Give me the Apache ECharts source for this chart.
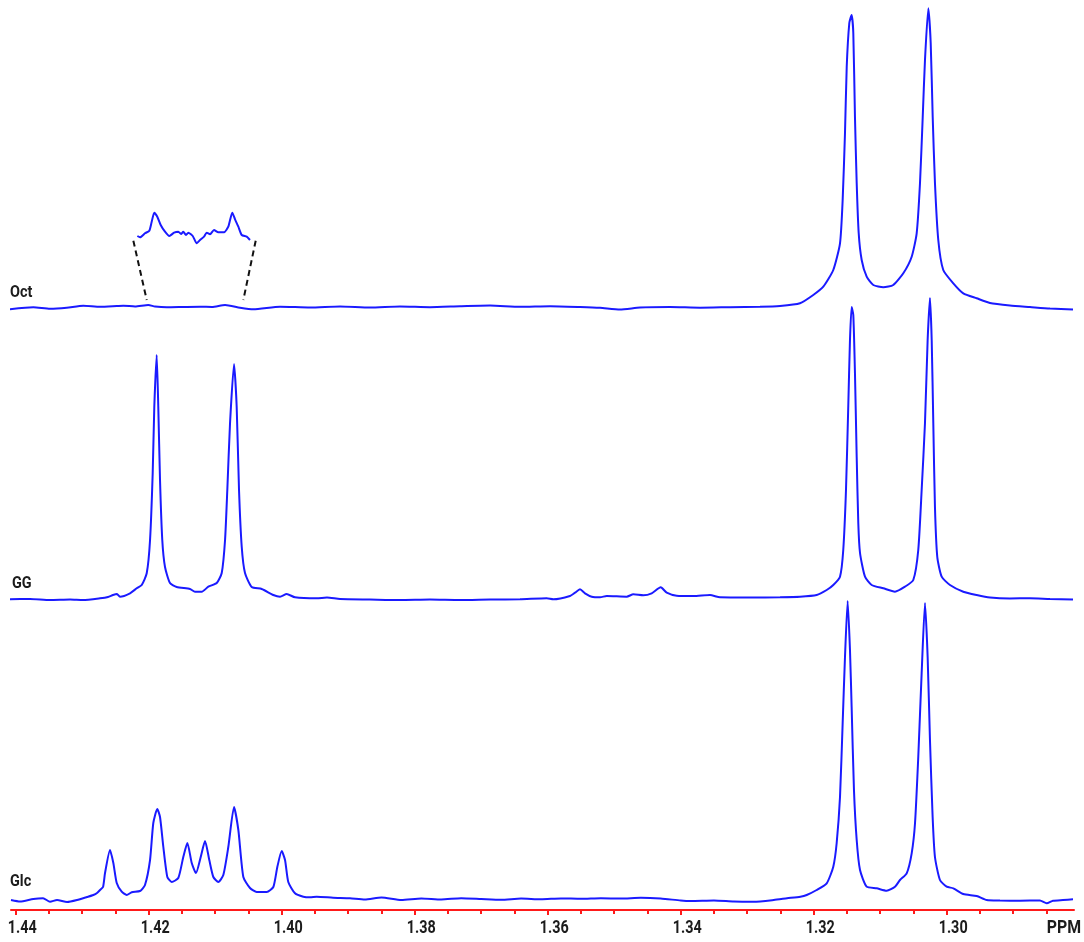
<!DOCTYPE html>
<html>
<head>
<meta charset="utf-8">
<script src="https://cdn.jsdelivr.net/npm/echarts@6/dist/echarts.min.js"></script>
<style>
html,body{margin:0;padding:0;background:#fff;}
#chart{width:1084px;height:942px;}
</style>
</head>
<body>
<div id="chart"></div>
<script>
// ---------- data (ppm, intensity above each trace's own baseline) ----------
const PPM_OCT = [1.44086,1.43735,1.43484,1.43233,1.42983,1.42732,1.42481,1.42382,1.42206,1.42006,1.41905,1.41729,1.41484,1.41228,1.41048,1.40852,1.40627,1.40427,1.40025,1.39574,1.39123,1.38672,1.38221,1.37770,1.37319,1.36867,1.36416,1.35965,1.35514,1.35213,1.34913,1.34612,1.34161,1.33709,1.33258,1.32807,1.32506,1.32206,1.32006,1.31855,1.31705,1.31604,1.31564,1.31529,1.31503,1.31464,1.31429,1.31404,1.31379,1.31353,1.31323,1.31278,1.31203,1.31103,1.30953,1.30803,1.30652,1.30526,1.30451,1.30401,1.30360,1.30326,1.30276,1.30240,1.30210,1.30176,1.30126,1.30051,1.29900,1.29750,1.29549,1.29349,1.29048,1.28747,1.28446,1.28100];
const INT_OCT = [-0.3,1.7,0.3,1.3,3.3,2.3,3,3.3,2.5,4,2.5,1.7,2,2.3,2,4,1.3,-0.3,2.3,1.5,2.5,1.5,2.5,1.8,2.8,3.5,2.2,2.8,2,1.2,-0.5,1.5,2,1.3,1.8,2.2,3,5.7,14,22.3,39,65.7,109,176,242,286,294,276,192,126,76,49,32.3,24,21.7,24,35.7,52.3,75.7,126,192,249,300.7,266,192,126,69,39,25.7,15.7,10.7,6,3.5,2,0.5,-0.5];

const PPM_GG = [1.44086,1.43785,1.43484,1.43183,1.42988,1.42732,1.42612,1.42537,1.42477,1.42432,1.42281,1.42180,1.42105,1.42030,1.41980,1.41940,1.41916,1.41880,1.41856,1.41830,1.41796,1.41755,1.41680,1.41579,1.41379,1.41304,1.41203,1.41103,1.40977,1.40902,1.40852,1.40818,1.40777,1.40717,1.40677,1.40642,1.40601,1.40552,1.40451,1.40301,1.40126,1.40025,1.39925,1.39800,1.39474,1.39319,1.39123,1.38672,1.38221,1.37770,1.37319,1.36867,1.36416,1.36015,1.35916,1.35665,1.35589,1.35514,1.35439,1.35338,1.35213,1.35113,1.34812,1.34712,1.34562,1.34436,1.34300,1.34210,1.34060,1.33810,1.33559,1.33409,1.32958,1.32506,1.32206,1.31955,1.31804,1.31705,1.31604,1.31555,1.31514,1.31480,1.31454,1.31429,1.31404,1.31379,1.31353,1.31329,1.31303,1.31228,1.31128,1.30953,1.30777,1.30627,1.30502,1.30427,1.30376,1.30326,1.30286,1.30251,1.30225,1.30201,1.30176,1.30141,1.30075,1.29950,1.29750,1.29549,1.29349,1.29048,1.28747,1.28446,1.28100];
const INT_GG = [-0.3,0,-1,-0.5,-1,0.7,2,4,5,2.3,5.7,10.7,14,25.7,59,126,192,244,192,119,59,32,16,12,10,7.3,7.3,12.3,16,26,59,109,176,235,192,109,52,26,12,10,4,2.3,5,1.7,0.7,1.5,0,-0.5,-1,-0.5,-1,-0.5,-0.3,0.7,-0.3,3,6.3,9.7,5.7,2.3,1.7,3,2.3,4.7,3.7,5.7,11.7,6.3,3.3,3,4,1.7,1.5,1.8,2.3,4,9,14,22.3,49,109,192,259,292,284,226,142,76,46,22.3,14,10.7,7.3,12.3,19,49,109,176,259,301,259,176,92,42,22.3,14,7.3,4,1.5,0.5,0.8,0,-0.5];

const PPM_GLC = [1.44071,1.43935,1.43735,1.43589,1.43484,1.43379,1.43228,1.43078,1.42928,1.42833,1.42777,1.42732,1.42687,1.42657,1.42582,1.42532,1.42481,1.42406,1.42331,1.42255,1.42131,1.42056,1.41980,1.41931,1.41871,1.41830,1.41780,1.41720,1.41654,1.41555,1.41480,1.41419,1.41353,1.41289,1.41218,1.41153,1.41089,1.41028,1.40953,1.40878,1.40803,1.40717,1.40652,1.40577,1.40477,1.40376,1.40225,1.40126,1.40066,1.40000,1.39950,1.39901,1.39800,1.39675,1.39574,1.39474,1.39228,1.38973,1.38750,1.38500,1.38200,1.37900,1.37600,1.37300,1.37000,1.36700,1.36400,1.36100,1.35800,1.35500,1.35200,1.34900,1.34600,1.34300,1.34000,1.33850,1.33500,1.33200,1.32900,1.32600,1.32400,1.32200,1.32105,1.31955,1.31804,1.31705,1.31654,1.31604,1.31564,1.31529,1.31489,1.31454,1.31429,1.31394,1.31353,1.31303,1.31203,1.31052,1.30902,1.30777,1.30702,1.30601,1.30526,1.30476,1.30427,1.30376,1.30326,1.30286,1.30251,1.30211,1.30176,1.30101,1.30000,1.29900,1.29750,1.29549,1.29398,1.29198,1.28898,1.28597,1.28496,1.28401,1.28251,1.28100];
const INT_GLC = [-1,-2.5,0,0.7,-2.7,-1,-3,-1,2,4,6,9,12,26,49,36,16,7.3,4,6.7,8,14,39,76,90,82,52,22,17,21,42,56,36,26,42,58,39,22,17,24,52,92,69,22,11,7,7,12,32,48,39,17,5.7,2.3,1.7,2.3,1.3,0.7,-0.5,1.5,-1,0.5,-0.5,0.8,0,-0.8,0.5,-0.3,0.6,0.2,0.8,0.4,1.3,0.5,-1.5,-2,-1.5,-2.5,-2.7,-1,0.7,2.3,4,9,15.7,32.3,56,102,176,242,298,249,192,109,59,29,12.3,10.7,8.3,12.3,19,25.7,45.7,75.7,142,226,296,242,159,82,42,19,12.3,10.7,5,3,-1,-1.5,-1.7,-1.5,-4.3,-1.7,-1,-0.3];

// magnified view of the Oct trace between the two GG peak positions
const PPM_INSET = [1.42171,1.42131,1.42056,1.41991,1.41955,1.41916,1.41871,1.41820,1.41755,1.41690,1.41619,1.41555,1.41514,1.41480,1.41439,1.41404,1.41338,1.41278,1.41228,1.41168,1.41128,1.41078,1.41018,1.40953,1.40868,1.40803,1.40743,1.40702,1.40652,1.40601,1.40526,1.40477];
const INT_INSET = [4,2.7,6.7,9.3,18.3,27.3,23.3,15,8.3,4,7.3,8.3,6,8.3,5,7.3,4,-3.3,0,3.3,7.3,5.7,10,7.7,7.7,13.3,27.3,20.7,13.3,5,3.3,0];

// connector lines of the inset: [ppm, level]
const CONNECT_LEFT  = [[1.42231, 669.3], [1.42030, 610]];
const CONNECT_RIGHT = [[1.40391, 669.3], [1.40577, 610]];

const TRACE_NAMES = ['Oct', 'GG', 'Glc'];
const MAJOR_TICKS = [1.44, 1.42, 1.40, 1.38, 1.36, 1.34, 1.32, 1.30];
const MINOR_TICKS = [1.435,1.43,1.425,1.415,1.41,1.405,1.395,1.39,1.385,1.375,1.37,1.365,1.355,1.35,1.345,1.335,1.33,1.325,1.315,1.31,1.305,1.295,1.29,1.285];
const AXIS_UNIT = 'PPM';

// ---------- layout / style ----------
const X_MIN = 1.28085, X_MAX = 1.44071;
const OFFSET = {oct: 601, gg: 311, glc: 11, inset: 670};
const BLUE = '#1a1aff';
const FONT = 'Roboto, "DejaVu Sans", sans-serif';
const TXT = '#1c1c1c';

function build(ppm, vals, off) {
  return ppm.map((p, i) => [p, vals[i] + off]);
}

const lineSeries = (data) => ({
  type: 'line', data: data, showSymbol: false, symbol: 'none',
  smooth: 0.2,
  lineStyle: {color: BLUE, width: 2}, animation: false, silent: true,
  xAxisIndex: 0, yAxisIndex: 0, clip: false
});
const dashSeries = (data) => ({
  type: 'line', data: data, showSymbol: false, symbol: 'none',
  lineStyle: {color: '#111', width: 2, type: [6, 4]}, animation: false, silent: true
});

const chart = echarts.init(document.getElementById('chart'), null, {renderer: 'canvas'});
const tickStyle = {color: '#ff1a1a', width: 2};

chart.setOption({
  animation: false,
  backgroundColor: '#fff',
  grid: {left: 11, right: 10, top: 0, bottom: 32},
  xAxis: [
    {
      type: 'value', inverse: true, min: X_MIN, max: X_MAX, position: 'bottom',
      axisLine: {show: true, onZero: false, lineStyle: {color: '#ff1a1a', width: 2}},
      axisTick: {show: true, customValues: MINOR_TICKS, length: 4, lineStyle: tickStyle},
      axisLabel: {show: false}, splitLine: {show: false}
    },
    {
      type: 'value', inverse: true, min: X_MIN, max: X_MAX, position: 'bottom',
      axisLine: {show: false, onZero: false},
      axisTick: {show: true, customValues: MAJOR_TICKS, length: 5, lineStyle: tickStyle},
      axisLabel: {show: false},
      splitLine: {show: false}
    }
  ],
  yAxis: {type: 'value', min: 0, max: 910, show: false, splitLine: {show: false}},
  series: [
    lineSeries(build(PPM_OCT, INT_OCT, OFFSET.oct)),
    lineSeries(build(PPM_GG, INT_GG, OFFSET.gg)),
    lineSeries(build(PPM_GLC, INT_GLC, OFFSET.glc)),
    lineSeries(build(PPM_INSET, INT_INSET, OFFSET.inset)),
    dashSeries(CONNECT_LEFT),
    dashSeries(CONNECT_RIGHT)
  ]
});

// condensed tick labels placed via the axis scale
const axisY = chart.convertToPixel({yAxisIndex: 0}, 0);
const labelY = axisY + 18.5;
const graphics = MAJOR_TICKS.map(v => ({
  type: 'text', x: chart.convertToPixel({xAxisIndex: 0}, v) + 6.5, y: labelY, scaleX: 0.8,
  style: {text: v.toFixed(2), font: 'bold 18px ' + FONT, fill: TXT, textAlign: 'center', align: 'center', textVerticalAlign: 'middle', verticalAlign: 'middle'}
}));
graphics.push({type: 'text', x: 1064, y: labelY, scaleX: 0.88,
  style: {text: AXIS_UNIT, font: 'bold 18px ' + FONT, fill: TXT, textAlign: 'center', align: 'center', textVerticalAlign: 'middle', verticalAlign: 'middle'}});
const nameOffsets = [OFFSET.oct, OFFSET.gg, OFFSET.glc];
const nameLift = [16, 15, 17];
TRACE_NAMES.forEach((n, i) => {
  graphics.push({type: 'text', x: i === 1 ? 12 : 10, y: chart.convertToPixel({yAxisIndex: 0}, nameOffsets[i]) - nameLift[i], scaleX: 0.85,
    style: {text: n, font: 'bold 17px ' + FONT, fill: TXT, textVerticalAlign: 'middle', verticalAlign: 'middle'}});
});
chart.setOption({graphic: graphics});
</script>
</body>
</html>
